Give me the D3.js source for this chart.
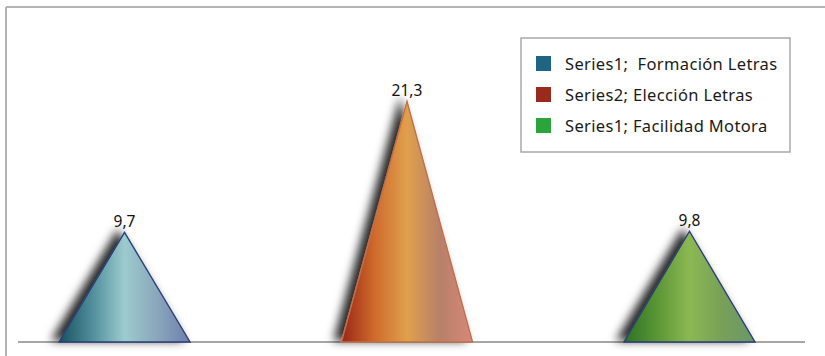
<!DOCTYPE html>
<html>
<head>
<meta charset="utf-8">
<script src="https://cdn.jsdelivr.net/npm/d3@7"></script>
<style>
  body { margin: 0; background: #fff; }
  svg { display: block; font-family: "Noto Sans", "Open Sans", sans-serif; }
</style>
</head>
<body>
<div id="chart"></div>
<script>
// chart data
const categories = ["Formación Letras", "Elección Letras", "Facilidad Motora"];
const values = [9.7, 21.3, 9.8];
const labels = ["9,7", "21,3", "9,8"];
const legendNames = ["Series1;  Formación Letras", "Series2; Elección Letras", "Series1; Facilidad Motora"];
const legendColors = ["#1f6480", "#9a2a1c", "#2ba43c"];
// gradient stops for each cone (left -> right)
const gradStops = [
  ["#18505e", "#4f8e9a", "#9ccbce", "#8aa6bc", "#6d7fab"],
  ["#9a2616", "#cf6a2c", "#e0a04c", "#b88068", "#d8887a"],
  ["#2a7226", "#5a9634", "#8cb852", "#78a058", "#6a966a"]
];
const strokeColors = ["#2b3f78", "#c0704a", "#2b3f78"];

let w = 825;
let h = 356;

const svg = d3.select("#chart")
  .append("svg")
  .attr("width", w)
  .attr("height", h);

const defs = svg.append("defs");

// blurred shadow to the upper left
const filter = defs.append("filter")
  .attr("id", "shadow")
  .attr("x", "-50%").attr("y", "-40%")
  .attr("width", "200%").attr("height", "160%");
filter.append("feDropShadow")
  .attr("dx", -7).attr("dy", -2)
  .attr("stdDeviation", 5)
  .attr("flood-color", "#000")
  .attr("flood-opacity", 0.85);

gradStops.forEach((stops, i) => {
  let g = defs.append("linearGradient")
    .attr("id", "grad" + i)
    .attr("x1", "0%").attr("x2", "100%")
    .attr("y1", "0%").attr("y2", "0%");
  stops.forEach((c, j) => {
    g.append("stop")
      .attr("offset", (j / (stops.length - 1) * 100) + "%")
      .attr("stop-color", c);
  });
});

// frame (top and left edges)
svg.append("line")
  .attr("x1", 6).attr("x2", w).attr("y1", 7).attr("y2", 7)
  .attr("stroke", "#b3b3b3").attr("stroke-width", 2);
svg.append("line")
  .attr("x1", 6).attr("x2", 6).attr("y1", 7).attr("y2", h)
  .attr("stroke", "#b3b3b3").attr("stroke-width", 2);

let x = d3.scaleBand()
  .domain(categories)
  .range([59, 755])
  .paddingInner(0.536)
  .paddingOuter(0);

let y = d3.scaleLinear()
  .domain([0, 24])
  .range([342, 70.8]);

// baseline
svg.append("line")
  .attr("x1", 18).attr("x2", 805)
  .attr("y1", y(0)).attr("y2", y(0))
  .attr("stroke", "#a6a6a6").attr("stroke-width", 2);

function cone(d, i) {
  let x0 = x(categories[i]);
  let x1 = x0 + x.bandwidth();
  let xm = x0 + x.bandwidth() / 2;
  return d3.line()([[x0, y(0)], [xm, y(d)], [x1, y(0)]]) + "Z";
}

svg.selectAll("path.cone")
  .data(values)
  .enter()
  .append("path")
  .attr("class", "cone")
  .attr("d", cone)
  .attr("fill", (d, i) => "url(#grad" + i + ")")
  .attr("stroke", (d, i) => strokeColors[i])
  .attr("stroke-width", 1.4)
  .attr("stroke-linejoin", "miter")
  .attr("filter", "url(#shadow)");

svg.selectAll("text.val")
  .data(values)
  .enter()
  .append("text")
  .attr("class", "val")
  .attr("x", (d, i) => x(categories[i]) + x.bandwidth() / 2)
  .attr("y", d => y(d) - 5)
  .attr("text-anchor", "middle")
  .style("font-size", "15.5px")
  .style("fill", "#111")
  .text((d, i) => labels[i]);

// legend
let legend = svg.append("g")
  .attr("transform", "translate(521,38)");
legend.append("rect")
  .attr("x", 0).attr("y", 0)
  .attr("width", 269).attr("height", 114)
  .attr("fill", "#fff")
  .attr("stroke", "#a9a9a9")
  .attr("stroke-width", 1.5);
legendNames.forEach((name, i) => {
  let item = legend.append("g")
    .attr("transform", `translate(0, ${26 + i * 31})`);
  item.append("rect")
    .attr("x", 15).attr("y", -8)
    .attr("width", 15).attr("height", 15)
    .attr("fill", legendColors[i]);
  item.append("text")
    .attr("x", 44).attr("y", 5.5)
    .style("font-size", "16.5px")
    .style("letter-spacing", "0.35px")
    .style("white-space", "pre")
    .style("fill", "#1a1a1a")
    .text(name);
});
</script>
</body>
</html>
